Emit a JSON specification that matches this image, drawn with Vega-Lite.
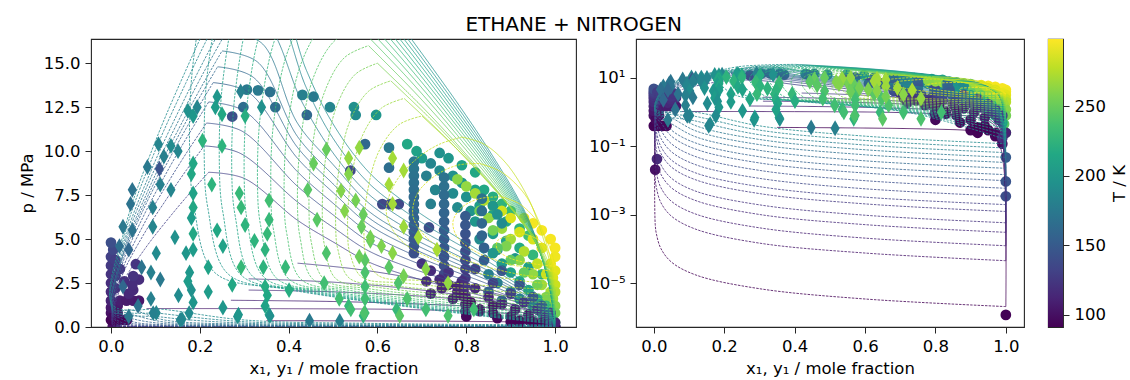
{
"$schema": "https://vega.github.io/schema/vega-lite/v6.json",
"padding": {"left": 18, "top": 15, "right": 2, "bottom": 2},
"title": {"text": "ETHANE + NITROGEN", "anchor": "middle", "offset": 3, "fontSize": 20, "fontWeight": "normal", "color": "#000"},
"bounds": "flush",
"spacing": 24,
"datasets": {
"lines": [
{"s":"92d","T":92,"k":"d","x":1,"p":2.1e-6},{"s":"92d","T":92,"k":"d","x":0.6,"p":3.5e-6},{"s":"92d","T":92,"k":"d","x":0.3,"p":7e-6},{"s":"92d","T":92,"k":"d","x":0.12,"p":1.75e-5},{"s":"92d","T":92,"k":"d","x":0.05,"p":4.2e-5},{"s":"92d","T":92,"k":"d","x":0.02,"p":1.05e-4},{"s":"92d","T":92,"k":"d","x":0.008,"p":2.6e-4},{"s":"92d","T":92,"k":"d","x":0.004,"p":5.3e-4},{"s":"92d","T":92,"k":"d","x":0.003,"p":0.36},
{"s":"92b","T":92,"k":"b","x":0.35,"p":0.36},{"s":"92b","T":92,"k":"b","x":0.6,"p":0.345},{"s":"92b","T":92,"k":"b","x":0.8,"p":0.32},{"s":"92b","T":92,"k":"b","x":0.9,"p":0.29},{"s":"92b","T":92,"k":"b","x":0.95,"p":0.24},{"s":"92b","T":92,"k":"b","x":0.98,"p":0.12},{"s":"92b","T":92,"k":"b","x":0.995,"p":0.02},{"s":"92b","T":92,"k":"b","x":1,"p":2.1e-6},
{"s":"104d","T":104,"k":"d","x":1,"p":4.6e-5},{"s":"104d","T":104,"k":"d","x":0.6,"p":7.7e-5},{"s":"104d","T":104,"k":"d","x":0.3,"p":1.5e-4},{"s":"104d","T":104,"k":"d","x":0.12,"p":3.8e-4},{"s":"104d","T":104,"k":"d","x":0.05,"p":9.2e-4},{"s":"104d","T":104,"k":"d","x":0.02,"p":2.3e-3},{"s":"104d","T":104,"k":"d","x":0.008,"p":5.8e-3},{"s":"104d","T":104,"k":"d","x":0.004,"p":0.0115},{"s":"104d","T":104,"k":"d","x":0.003,"p":1.05},
{"s":"104b","T":104,"k":"b","x":0.08,"p":1.05},{"s":"104b","T":104,"k":"b","x":0.4,"p":1.04},{"s":"104b","T":104,"k":"b","x":0.65,"p":1.0},{"s":"104b","T":104,"k":"b","x":0.8,"p":0.9},{"s":"104b","T":104,"k":"b","x":0.9,"p":0.75},{"s":"104b","T":104,"k":"b","x":0.95,"p":0.55},{"s":"104b","T":104,"k":"b","x":0.98,"p":0.3},{"s":"104b","T":104,"k":"b","x":0.995,"p":0.06},{"s":"104b","T":104,"k":"b","x":1,"p":4.6e-5},
{"s":"110d","T":110,"k":"d","x":1,"p":1.26e-4},{"s":"110d","T":110,"k":"d","x":0.6,"p":2.1e-4},{"s":"110d","T":110,"k":"d","x":0.3,"p":4.2e-4},{"s":"110d","T":110,"k":"d","x":0.12,"p":1.05e-3},{"s":"110d","T":110,"k":"d","x":0.05,"p":2.5e-3},{"s":"110d","T":110,"k":"d","x":0.02,"p":6.3e-3},{"s":"110d","T":110,"k":"d","x":0.008,"p":0.0158},{"s":"110d","T":110,"k":"d","x":0.004,"p":0.0315},{"s":"110d","T":110,"k":"d","x":0.003,"p":1.52},
{"s":"110b","T":110,"k":"b","x":0.27,"p":1.52},{"s":"110b","T":110,"k":"b","x":0.5,"p":1.45},{"s":"110b","T":110,"k":"b","x":0.7,"p":1.3},{"s":"110b","T":110,"k":"b","x":0.85,"p":1.1},{"s":"110b","T":110,"k":"b","x":0.93,"p":0.8},{"s":"110b","T":110,"k":"b","x":0.97,"p":0.45},{"s":"110b","T":110,"k":"b","x":0.99,"p":0.15},{"s":"110b","T":110,"k":"b","x":1,"p":1.26e-4},
{"s":"116d","T":116,"k":"d","x":1,"p":3.1e-4},{"s":"116d","T":116,"k":"d","x":0.6,"p":5.2e-4},{"s":"116d","T":116,"k":"d","x":0.3,"p":1.03e-3},{"s":"116d","T":116,"k":"d","x":0.12,"p":2.6e-3},{"s":"116d","T":116,"k":"d","x":0.05,"p":6.2e-3},{"s":"116d","T":116,"k":"d","x":0.02,"p":0.0155},{"s":"116d","T":116,"k":"d","x":0.008,"p":0.039},{"s":"116d","T":116,"k":"d","x":0.004,"p":0.078},{"s":"116d","T":116,"k":"d","x":0.003,"p":2.1},
{"s":"116b","T":116,"k":"b","x":0.31,"p":2.1},{"s":"116b","T":116,"k":"b","x":0.5,"p":2.0},{"s":"116b","T":116,"k":"b","x":0.7,"p":1.75},{"s":"116b","T":116,"k":"b","x":0.85,"p":1.4},{"s":"116b","T":116,"k":"b","x":0.93,"p":1.0},{"s":"116b","T":116,"k":"b","x":0.97,"p":0.55},{"s":"116b","T":116,"k":"b","x":0.99,"p":0.2},{"s":"116b","T":116,"k":"b","x":1,"p":3.1e-4},
{"s":"121d","T":121,"k":"d","x":1,"p":5.9e-4},{"s":"121d","T":121,"k":"d","x":0.6,"p":9.8e-4},{"s":"121d","T":121,"k":"d","x":0.3,"p":1.97e-3},{"s":"121d","T":121,"k":"d","x":0.12,"p":4.9e-3},{"s":"121d","T":121,"k":"d","x":0.05,"p":0.0118},{"s":"121d","T":121,"k":"d","x":0.02,"p":0.0295},{"s":"121d","T":121,"k":"d","x":0.008,"p":0.074},{"s":"121d","T":121,"k":"d","x":0.004,"p":0.15},{"s":"121d","T":121,"k":"d","x":0.003,"p":2.74},
{"s":"121b","T":121,"k":"b","x":0.31,"p":2.74},{"s":"121b","T":121,"k":"b","x":0.5,"p":2.55},{"s":"121b","T":121,"k":"b","x":0.7,"p":2.1},{"s":"121b","T":121,"k":"b","x":0.85,"p":1.55},{"s":"121b","T":121,"k":"b","x":0.93,"p":1.1},{"s":"121b","T":121,"k":"b","x":0.97,"p":0.6},{"s":"121b","T":121,"k":"b","x":0.99,"p":0.2},{"s":"121b","T":121,"k":"b","x":1,"p":5.9e-4},
{"s":"125d","T":125,"k":"d","x":1,"p":1.26e-3},{"s":"125d","T":125,"k":"d","x":0.6,"p":2.1e-3},{"s":"125d","T":125,"k":"d","x":0.3,"p":4.2e-3},{"s":"125d","T":125,"k":"d","x":0.12,"p":0.0105},{"s":"125d","T":125,"k":"d","x":0.05,"p":0.025},{"s":"125d","T":125,"k":"d","x":0.02,"p":0.063},{"s":"125d","T":125,"k":"d","x":0.008,"p":0.158},{"s":"125d","T":125,"k":"d","x":0.004,"p":0.315},{"s":"125d","T":125,"k":"d","x":0.003,"p":3.63},
{"s":"125b","T":125,"k":"b","x":0.42,"p":3.63},{"s":"125b","T":125,"k":"b","x":0.55,"p":3.3},{"s":"125b","T":125,"k":"b","x":0.7,"p":2.7},{"s":"125b","T":125,"k":"b","x":0.85,"p":2.0},{"s":"125b","T":125,"k":"b","x":0.93,"p":1.4},{"s":"125b","T":125,"k":"b","x":0.97,"p":0.7},{"s":"125b","T":125,"k":"b","x":0.99,"p":0.25},{"s":"125b","T":125,"k":"b","x":1,"p":1.26e-3},
{"s":"130d","T":130,"k":"d","x":1,"p":0.002},{"s":"130d","T":130,"k":"d","x":0.6,"p":0.0033},{"s":"130d","T":130,"k":"d","x":0.3,"p":0.0067},{"s":"130d","T":130,"k":"d","x":0.12,"p":0.0167},{"s":"130d","T":130,"k":"d","x":0.05,"p":0.04},{"s":"130d","T":130,"k":"d","x":0.02,"p":0.1},{"s":"130d","T":130,"k":"d","x":0.008,"p":0.25},{"s":"130d","T":130,"k":"d","x":0.004,"p":0.53},{"s":"130d","T":130,"k":"d","x":0.024,"p":2.38},{"s":"130d","T":130,"k":"d","x":0.075,"p":4.4},{"s":"130d","T":130,"k":"d","x":0.132,"p":6.25},{"s":"130d","T":130,"k":"d","x":0.176,"p":7.57},{"s":"130d","T":130,"k":"d","x":0.22,"p":8.8},
{"s":"130b","T":130,"k":"b","x":0.22,"p":8.8},{"s":"130b","T":130,"k":"b","x":0.3,"p":8.45},{"s":"130b","T":130,"k":"b","x":0.42,"p":6.07},{"s":"130b","T":130,"k":"b","x":0.5,"p":4.84},{"s":"130b","T":130,"k":"b","x":0.58,"p":3.7},{"s":"130b","T":130,"k":"b","x":0.67,"p":2.9},{"s":"130b","T":130,"k":"b","x":0.75,"p":2.33},{"s":"130b","T":130,"k":"b","x":0.85,"p":1.67},{"s":"130b","T":130,"k":"b","x":0.93,"p":1.06},{"s":"130b","T":130,"k":"b","x":0.98,"p":0.53},{"s":"130b","T":130,"k":"b","x":1,"p":0.002},
{"s":"136d","T":136,"k":"d","x":1,"p":0.0035},{"s":"136d","T":136,"k":"d","x":0.6,"p":0.0058},{"s":"136d","T":136,"k":"d","x":0.3,"p":0.0117},{"s":"136d","T":136,"k":"d","x":0.12,"p":0.029},{"s":"136d","T":136,"k":"d","x":0.05,"p":0.07},{"s":"136d","T":136,"k":"d","x":0.02,"p":0.175},{"s":"136d","T":136,"k":"d","x":0.008,"p":0.44},{"s":"136d","T":136,"k":"d","x":0.004,"p":0.62},{"s":"136d","T":136,"k":"d","x":0.023,"p":2.78},{"s":"136d","T":136,"k":"d","x":0.071,"p":5.15},{"s":"136d","T":136,"k":"d","x":0.126,"p":7.31},{"s":"136d","T":136,"k":"d","x":0.168,"p":8.86},{"s":"136d","T":136,"k":"d","x":0.21,"p":10.3},
{"s":"136b","T":136,"k":"b","x":0.21,"p":10.3},{"s":"136b","T":136,"k":"b","x":0.29,"p":9.89},{"s":"136b","T":136,"k":"b","x":0.42,"p":7.11},{"s":"136b","T":136,"k":"b","x":0.5,"p":5.67},{"s":"136b","T":136,"k":"b","x":0.58,"p":4.33},{"s":"136b","T":136,"k":"b","x":0.67,"p":3.4},{"s":"136b","T":136,"k":"b","x":0.75,"p":2.73},{"s":"136b","T":136,"k":"b","x":0.85,"p":1.96},{"s":"136b","T":136,"k":"b","x":0.93,"p":1.24},{"s":"136b","T":136,"k":"b","x":0.98,"p":0.62},{"s":"136b","T":136,"k":"b","x":1,"p":0.0035},
{"s":"142d","T":142,"k":"d","x":1,"p":0.006},{"s":"142d","T":142,"k":"d","x":0.6,"p":0.01},{"s":"142d","T":142,"k":"d","x":0.3,"p":0.02},{"s":"142d","T":142,"k":"d","x":0.12,"p":0.05},{"s":"142d","T":142,"k":"d","x":0.05,"p":0.12},{"s":"142d","T":142,"k":"d","x":0.02,"p":0.3},{"s":"142d","T":142,"k":"d","x":0.004,"p":0.7},{"s":"142d","T":142,"k":"d","x":0.024,"p":3.13},{"s":"142d","T":142,"k":"d","x":0.073,"p":5.8},{"s":"142d","T":142,"k":"d","x":0.129,"p":8.24},{"s":"142d","T":142,"k":"d","x":0.172,"p":9.98},{"s":"142d","T":142,"k":"d","x":0.215,"p":11.6},
{"s":"142b","T":142,"k":"b","x":0.215,"p":11.6},{"s":"142b","T":142,"k":"b","x":0.295,"p":11.14},{"s":"142b","T":142,"k":"b","x":0.42,"p":8.0},{"s":"142b","T":142,"k":"b","x":0.5,"p":6.38},{"s":"142b","T":142,"k":"b","x":0.58,"p":4.87},{"s":"142b","T":142,"k":"b","x":0.67,"p":3.83},{"s":"142b","T":142,"k":"b","x":0.75,"p":3.07},{"s":"142b","T":142,"k":"b","x":0.85,"p":2.2},{"s":"142b","T":142,"k":"b","x":0.93,"p":1.39},{"s":"142b","T":142,"k":"b","x":0.98,"p":0.7},{"s":"142b","T":142,"k":"b","x":1,"p":0.006},
{"s":"148d","T":148,"k":"d","x":1,"p":0.01},{"s":"148d","T":148,"k":"d","x":0.6,"p":0.0167},{"s":"148d","T":148,"k":"d","x":0.3,"p":0.033},{"s":"148d","T":148,"k":"d","x":0.12,"p":0.083},{"s":"148d","T":148,"k":"d","x":0.05,"p":0.2},{"s":"148d","T":148,"k":"d","x":0.02,"p":0.5},{"s":"148d","T":148,"k":"d","x":0.004,"p":0.77},{"s":"148d","T":148,"k":"d","x":0.024,"p":3.46},{"s":"148d","T":148,"k":"d","x":0.075,"p":6.4},{"s":"148d","T":148,"k":"d","x":0.132,"p":9.09},{"s":"148d","T":148,"k":"d","x":0.176,"p":11.0},{"s":"148d","T":148,"k":"d","x":0.22,"p":12.8},
{"s":"148b","T":148,"k":"b","x":0.22,"p":12.8},{"s":"148b","T":148,"k":"b","x":0.3,"p":12.29},{"s":"148b","T":148,"k":"b","x":0.42,"p":8.83},{"s":"148b","T":148,"k":"b","x":0.5,"p":7.04},{"s":"148b","T":148,"k":"b","x":0.58,"p":5.38},{"s":"148b","T":148,"k":"b","x":0.67,"p":4.22},{"s":"148b","T":148,"k":"b","x":0.75,"p":3.39},{"s":"148b","T":148,"k":"b","x":0.85,"p":2.43},{"s":"148b","T":148,"k":"b","x":0.93,"p":1.54},{"s":"148b","T":148,"k":"b","x":0.98,"p":0.77},{"s":"148b","T":148,"k":"b","x":1,"p":0.01},
{"s":"154d","T":154,"k":"d","x":1,"p":0.015},{"s":"154d","T":154,"k":"d","x":0.6,"p":0.025},{"s":"154d","T":154,"k":"d","x":0.3,"p":0.05},{"s":"154d","T":154,"k":"d","x":0.12,"p":0.125},{"s":"154d","T":154,"k":"d","x":0.05,"p":0.3},{"s":"154d","T":154,"k":"d","x":0.02,"p":0.75},{"s":"154d","T":154,"k":"d","x":0.004,"p":0.83},{"s":"154d","T":154,"k":"d","x":0.025,"p":3.75},{"s":"154d","T":154,"k":"d","x":0.078,"p":6.95},{"s":"154d","T":154,"k":"d","x":0.138,"p":9.87},{"s":"154d","T":154,"k":"d","x":0.184,"p":11.95},{"s":"154d","T":154,"k":"d","x":0.23,"p":13.9},
{"s":"154b","T":154,"k":"b","x":0.23,"p":13.9},{"s":"154b","T":154,"k":"b","x":0.31,"p":13.34},{"s":"154b","T":154,"k":"b","x":0.42,"p":9.59},{"s":"154b","T":154,"k":"b","x":0.5,"p":7.65},{"s":"154b","T":154,"k":"b","x":0.58,"p":5.84},{"s":"154b","T":154,"k":"b","x":0.67,"p":4.59},{"s":"154b","T":154,"k":"b","x":0.75,"p":3.68},{"s":"154b","T":154,"k":"b","x":0.85,"p":2.64},{"s":"154b","T":154,"k":"b","x":0.93,"p":1.67},{"s":"154b","T":154,"k":"b","x":0.98,"p":0.83},{"s":"154b","T":154,"k":"b","x":1,"p":0.015},
{"s":"160d","T":160,"k":"d","x":1,"p":0.023},{"s":"160d","T":160,"k":"d","x":0.6,"p":0.038},{"s":"160d","T":160,"k":"d","x":0.3,"p":0.077},{"s":"160d","T":160,"k":"d","x":0.12,"p":0.19},{"s":"160d","T":160,"k":"d","x":0.05,"p":0.46},{"s":"160d","T":160,"k":"d","x":0.004,"p":0.89},{"s":"160d","T":160,"k":"d","x":0.026,"p":4.0},{"s":"160d","T":160,"k":"d","x":0.082,"p":7.4},{"s":"160d","T":160,"k":"d","x":0.144,"p":10.5},{"s":"160d","T":160,"k":"d","x":0.192,"p":12.73},{"s":"160d","T":160,"k":"d","x":0.24,"p":14.8},
{"s":"160b","T":160,"k":"b","x":0.24,"p":14.8},{"s":"160b","T":160,"k":"b","x":0.32,"p":14.21},{"s":"160b","T":160,"k":"b","x":0.42,"p":10.21},{"s":"160b","T":160,"k":"b","x":0.5,"p":8.14},{"s":"160b","T":160,"k":"b","x":0.58,"p":6.22},{"s":"160b","T":160,"k":"b","x":0.67,"p":4.88},{"s":"160b","T":160,"k":"b","x":0.75,"p":3.92},{"s":"160b","T":160,"k":"b","x":0.85,"p":2.81},{"s":"160b","T":160,"k":"b","x":0.93,"p":1.78},{"s":"160b","T":160,"k":"b","x":0.98,"p":0.89},{"s":"160b","T":160,"k":"b","x":1,"p":0.023},
{"s":"166d","T":166,"k":"d","x":1,"p":0.034},{"s":"166d","T":166,"k":"d","x":0.6,"p":0.057},{"s":"166d","T":166,"k":"d","x":0.3,"p":0.113},{"s":"166d","T":166,"k":"d","x":0.12,"p":0.283},{"s":"166d","T":166,"k":"d","x":0.05,"p":0.68},{"s":"166d","T":166,"k":"d","x":0.004,"p":0.94},{"s":"166d","T":166,"k":"d","x":0.028,"p":4.24},{"s":"166d","T":166,"k":"d","x":0.085,"p":7.85},{"s":"166d","T":166,"k":"d","x":0.15,"p":11.15},{"s":"166d","T":166,"k":"d","x":0.2,"p":13.5},{"s":"166d","T":166,"k":"d","x":0.25,"p":15.7},
{"s":"166b","T":166,"k":"b","x":0.25,"p":15.7},{"s":"166b","T":166,"k":"b","x":0.33,"p":15.07},{"s":"166b","T":166,"k":"b","x":0.42,"p":10.83},{"s":"166b","T":166,"k":"b","x":0.5,"p":8.64},{"s":"166b","T":166,"k":"b","x":0.58,"p":6.59},{"s":"166b","T":166,"k":"b","x":0.67,"p":5.18},{"s":"166b","T":166,"k":"b","x":0.75,"p":4.16},{"s":"166b","T":166,"k":"b","x":0.85,"p":2.98},{"s":"166b","T":166,"k":"b","x":0.93,"p":1.88},{"s":"166b","T":166,"k":"b","x":0.98,"p":0.94},{"s":"166b","T":166,"k":"b","x":1,"p":0.034},
{"s":"172d","T":172,"k":"d","x":1,"p":0.048},{"s":"172d","T":172,"k":"d","x":0.6,"p":0.08},{"s":"172d","T":172,"k":"d","x":0.3,"p":0.16},{"s":"172d","T":172,"k":"d","x":0.12,"p":0.4},{"s":"172d","T":172,"k":"d","x":0.05,"p":0.96},{"s":"172d","T":172,"k":"d","x":0.004,"p":1.01},{"s":"172d","T":172,"k":"d","x":0.029,"p":4.54},{"s":"172d","T":172,"k":"d","x":0.088,"p":8.4},{"s":"172d","T":172,"k":"d","x":0.156,"p":11.93},{"s":"172d","T":172,"k":"d","x":0.208,"p":14.45},{"s":"172d","T":172,"k":"d","x":0.26,"p":16.8},
{"s":"172b","T":172,"k":"b","x":0.26,"p":16.8},{"s":"172b","T":172,"k":"b","x":0.34,"p":16.13},{"s":"172b","T":172,"k":"b","x":0.42,"p":11.59},{"s":"172b","T":172,"k":"b","x":0.5,"p":9.24},{"s":"172b","T":172,"k":"b","x":0.58,"p":7.06},{"s":"172b","T":172,"k":"b","x":0.67,"p":5.54},{"s":"172b","T":172,"k":"b","x":0.75,"p":4.45},{"s":"172b","T":172,"k":"b","x":0.85,"p":3.19},{"s":"172b","T":172,"k":"b","x":0.93,"p":2.02},{"s":"172b","T":172,"k":"b","x":0.98,"p":1.01},{"s":"172b","T":172,"k":"b","x":1,"p":0.048},
{"s":"178d","T":178,"k":"d","x":1,"p":0.066},{"s":"178d","T":178,"k":"d","x":0.6,"p":0.11},{"s":"178d","T":178,"k":"d","x":0.3,"p":0.22},{"s":"178d","T":178,"k":"d","x":0.12,"p":0.55},{"s":"178d","T":178,"k":"d","x":0.004,"p":1.08},{"s":"178d","T":178,"k":"d","x":0.03,"p":4.86},{"s":"178d","T":178,"k":"d","x":0.092,"p":9.0},{"s":"178d","T":178,"k":"d","x":0.162,"p":12.78},{"s":"178d","T":178,"k":"d","x":0.216,"p":15.48},{"s":"178d","T":178,"k":"d","x":0.27,"p":18},
{"s":"178b","T":178,"k":"b","x":0.27,"p":18},{"s":"178b","T":178,"k":"b","x":0.35,"p":17.28},{"s":"178b","T":178,"k":"b","x":0.43,"p":12.8},{"s":"178b","T":178,"k":"b","x":0.5,"p":9.9},{"s":"178b","T":178,"k":"b","x":0.58,"p":7.56},{"s":"178b","T":178,"k":"b","x":0.67,"p":5.94},{"s":"178b","T":178,"k":"b","x":0.75,"p":4.77},{"s":"178b","T":178,"k":"b","x":0.85,"p":3.42},{"s":"178b","T":178,"k":"b","x":0.93,"p":2.16},{"s":"178b","T":178,"k":"b","x":0.98,"p":1.08},{"s":"178b","T":178,"k":"b","x":1,"p":0.066},
{"s":"184d","T":184,"k":"d","x":1,"p":0.09},{"s":"184d","T":184,"k":"d","x":0.6,"p":0.15},{"s":"184d","T":184,"k":"d","x":0.3,"p":0.3},{"s":"184d","T":184,"k":"d","x":0.12,"p":0.75},{"s":"184d","T":184,"k":"d","x":0.004,"p":1.17},{"s":"184d","T":184,"k":"d","x":0.031,"p":5.27},{"s":"184d","T":184,"k":"d","x":0.095,"p":9.75},{"s":"184d","T":184,"k":"d","x":0.168,"p":13.85},{"s":"184d","T":184,"k":"d","x":0.224,"p":16.77},{"s":"184d","T":184,"k":"d","x":0.28,"p":19.5},
{"s":"184b","T":184,"k":"b","x":0.28,"p":19.5},{"s":"184b","T":184,"k":"b","x":0.36,"p":18.7},{"s":"184b","T":184,"k":"b","x":0.44,"p":13.6},{"s":"184b","T":184,"k":"b","x":0.5,"p":10.73},{"s":"184b","T":184,"k":"b","x":0.58,"p":8.19},{"s":"184b","T":184,"k":"b","x":0.67,"p":6.44},{"s":"184b","T":184,"k":"b","x":0.75,"p":5.17},{"s":"184b","T":184,"k":"b","x":0.85,"p":3.71},{"s":"184b","T":184,"k":"b","x":0.93,"p":2.34},{"s":"184b","T":184,"k":"b","x":0.98,"p":1.17},{"s":"184b","T":184,"k":"b","x":1,"p":0.09},
{"s":"190d","T":190,"k":"d","x":1,"p":0.12},{"s":"190d","T":190,"k":"d","x":0.6,"p":0.2},{"s":"190d","T":190,"k":"d","x":0.3,"p":0.4},{"s":"190d","T":190,"k":"d","x":0.12,"p":1.0},{"s":"190d","T":190,"k":"d","x":0.004,"p":1.26},{"s":"190d","T":190,"k":"d","x":0.032,"p":5.67},{"s":"190d","T":190,"k":"d","x":0.099,"p":10.5},{"s":"190d","T":190,"k":"d","x":0.174,"p":14.91},{"s":"190d","T":190,"k":"d","x":0.232,"p":18.06},{"s":"190d","T":190,"k":"d","x":0.29,"p":21},
{"s":"190b","T":190,"k":"b","x":0.29,"p":21},{"s":"190b","T":190,"k":"b","x":0.36,"p":20.2},{"s":"190b","T":190,"k":"b","x":0.44,"p":14.6},{"s":"190b","T":190,"k":"b","x":0.5,"p":11.55},{"s":"190b","T":190,"k":"b","x":0.58,"p":8.82},{"s":"190b","T":190,"k":"b","x":0.67,"p":6.93},{"s":"190b","T":190,"k":"b","x":0.75,"p":5.57},{"s":"190b","T":190,"k":"b","x":0.85,"p":3.99},{"s":"190b","T":190,"k":"b","x":0.93,"p":2.52},{"s":"190b","T":190,"k":"b","x":0.98,"p":1.26},{"s":"190b","T":190,"k":"b","x":1,"p":0.12},
{"s":"196d","T":196,"k":"d","x":1,"p":0.16},{"s":"196d","T":196,"k":"d","x":0.73,"p":0.95},{"s":"196d","T":196,"k":"d","x":0.4,"p":2.13},{"s":"196d","T":196,"k":"d","x":0.233,"p":3.11},{"s":"196d","T":196,"k":"d","x":0.186,"p":7.05},{"s":"196d","T":196,"k":"d","x":0.177,"p":10},{"s":"196d","T":196,"k":"d","x":0.186,"p":15.25},{"s":"196d","T":196,"k":"d","x":0.233,"p":20.8},{"s":"196d","T":196,"k":"d","x":0.311,"p":23.95},{"s":"196d","T":196,"k":"d","x":0.4,"p":25},
{"s":"196b","T":196,"k":"b","x":0.4,"p":25},{"s":"196b","T":196,"k":"b","x":0.55,"p":20.53},{"s":"196b","T":196,"k":"b","x":0.7,"p":15.56},{"s":"196b","T":196,"k":"b","x":0.85,"p":10.1},{"s":"196b","T":196,"k":"b","x":0.94,"p":6.12},{"s":"196b","T":196,"k":"b","x":0.982,"p":2.89},{"s":"196b","T":196,"k":"b","x":1,"p":0.16},
{"s":"202d","T":202,"k":"d","x":1,"p":0.21},{"s":"202d","T":202,"k":"d","x":0.739,"p":0.96},{"s":"202d","T":202,"k":"d","x":0.42,"p":2.09},{"s":"202d","T":202,"k":"d","x":0.263,"p":3.03},{"s":"202d","T":202,"k":"d","x":0.218,"p":6.78},{"s":"202d","T":202,"k":"d","x":0.21,"p":9.6},{"s":"202d","T":202,"k":"d","x":0.218,"p":14.64},{"s":"202d","T":202,"k":"d","x":0.263,"p":19.97},{"s":"202d","T":202,"k":"d","x":0.336,"p":22.99},{"s":"202d","T":202,"k":"d","x":0.42,"p":24},
{"s":"202b","T":202,"k":"b","x":0.42,"p":24},{"s":"202b","T":202,"k":"b","x":0.565,"p":19.72},{"s":"202b","T":202,"k":"b","x":0.71,"p":14.96},{"s":"202b","T":202,"k":"b","x":0.855,"p":9.73},{"s":"202b","T":202,"k":"b","x":0.942,"p":5.92},{"s":"202b","T":202,"k":"b","x":0.983,"p":2.83},{"s":"202b","T":202,"k":"b","x":1,"p":0.21},
{"s":"208d","T":208,"k":"d","x":1,"p":0.27},{"s":"208d","T":208,"k":"d","x":0.748,"p":0.98},{"s":"208d","T":208,"k":"d","x":0.44,"p":2.06},{"s":"208d","T":208,"k":"d","x":0.293,"p":2.95},{"s":"208d","T":208,"k":"d","x":0.252,"p":6.52},{"s":"208d","T":208,"k":"d","x":0.244,"p":9.2},{"s":"208d","T":208,"k":"d","x":0.252,"p":14.03},{"s":"208d","T":208,"k":"d","x":0.293,"p":19.14},{"s":"208d","T":208,"k":"d","x":0.362,"p":22.03},{"s":"208d","T":208,"k":"d","x":0.44,"p":23},
{"s":"208b","T":208,"k":"b","x":0.44,"p":23},{"s":"208b","T":208,"k":"b","x":0.58,"p":18.91},{"s":"208b","T":208,"k":"b","x":0.72,"p":14.36},{"s":"208b","T":208,"k":"b","x":0.86,"p":9.36},{"s":"208b","T":208,"k":"b","x":0.944,"p":5.73},{"s":"208b","T":208,"k":"b","x":0.983,"p":2.77},{"s":"208b","T":208,"k":"b","x":1,"p":0.27},
{"s":"214d","T":214,"k":"d","x":1,"p":0.34},{"s":"214d","T":214,"k":"d","x":0.757,"p":1.02},{"s":"214d","T":214,"k":"d","x":0.46,"p":2.03},{"s":"214d","T":214,"k":"d","x":0.319,"p":2.88},{"s":"214d","T":214,"k":"d","x":0.28,"p":6.26},{"s":"214d","T":214,"k":"d","x":0.272,"p":8.8},{"s":"214d","T":214,"k":"d","x":0.28,"p":13.42},{"s":"214d","T":214,"k":"d","x":0.319,"p":18.3},{"s":"214d","T":214,"k":"d","x":0.385,"p":21.08},{"s":"214d","T":214,"k":"d","x":0.46,"p":22},
{"s":"214b","T":214,"k":"b","x":0.46,"p":22},{"s":"214b","T":214,"k":"b","x":0.595,"p":18.1},{"s":"214b","T":214,"k":"b","x":0.73,"p":13.77},{"s":"214b","T":214,"k":"b","x":0.865,"p":9.0},{"s":"214b","T":214,"k":"b","x":0.946,"p":5.54},{"s":"214b","T":214,"k":"b","x":0.984,"p":2.72},{"s":"214b","T":214,"k":"b","x":1,"p":0.34},
{"s":"220d","T":220,"k":"d","x":1,"p":0.43},{"s":"220d","T":220,"k":"d","x":0.766,"p":1.07},{"s":"220d","T":220,"k":"d","x":0.48,"p":2.02},{"s":"220d","T":220,"k":"d","x":0.345,"p":2.82},{"s":"220d","T":220,"k":"d","x":0.307,"p":6.01},{"s":"220d","T":220,"k":"d","x":0.3,"p":8.4},{"s":"220d","T":220,"k":"d","x":0.307,"p":12.81},{"s":"220d","T":220,"k":"d","x":0.345,"p":17.47},{"s":"220d","T":220,"k":"d","x":0.408,"p":20.12},{"s":"220d","T":220,"k":"d","x":0.48,"p":21},
{"s":"220b","T":220,"k":"b","x":0.48,"p":21},{"s":"220b","T":220,"k":"b","x":0.61,"p":17.3},{"s":"220b","T":220,"k":"b","x":0.74,"p":13.18},{"s":"220b","T":220,"k":"b","x":0.87,"p":8.66},{"s":"220b","T":220,"k":"b","x":0.948,"p":5.37},{"s":"220b","T":220,"k":"b","x":0.984,"p":2.69},{"s":"220b","T":220,"k":"b","x":1,"p":0.43},
{"s":"226d","T":226,"k":"d","x":1,"p":0.53},{"s":"226d","T":226,"k":"d","x":0.775,"p":1.13},{"s":"226d","T":226,"k":"d","x":0.5,"p":2.02},{"s":"226d","T":226,"k":"d","x":0.373,"p":2.77},{"s":"226d","T":226,"k":"d","x":0.337,"p":5.76},{"s":"226d","T":226,"k":"d","x":0.33,"p":8},{"s":"226d","T":226,"k":"d","x":0.337,"p":12.2},{"s":"226d","T":226,"k":"d","x":0.373,"p":16.64},{"s":"226d","T":226,"k":"d","x":0.432,"p":19.16},{"s":"226d","T":226,"k":"d","x":0.5,"p":20},
{"s":"226b","T":226,"k":"b","x":0.5,"p":20},{"s":"226b","T":226,"k":"b","x":0.625,"p":16.5},{"s":"226b","T":226,"k":"b","x":0.75,"p":12.6},{"s":"226b","T":226,"k":"b","x":0.875,"p":8.32},{"s":"226b","T":226,"k":"b","x":0.95,"p":5.2},{"s":"226b","T":226,"k":"b","x":0.985,"p":2.67},{"s":"226b","T":226,"k":"b","x":1,"p":0.53},
{"s":"232d","T":232,"k":"d","x":1,"p":0.65},{"s":"232d","T":232,"k":"d","x":0.784,"p":1.21},{"s":"232d","T":232,"k":"d","x":0.52,"p":2.04},{"s":"232d","T":232,"k":"d","x":0.4,"p":2.74},{"s":"232d","T":232,"k":"d","x":0.366,"p":5.52},{"s":"232d","T":232,"k":"d","x":0.36,"p":7.6},{"s":"232d","T":232,"k":"d","x":0.366,"p":11.59},{"s":"232d","T":232,"k":"d","x":0.4,"p":15.81},{"s":"232d","T":232,"k":"d","x":0.456,"p":18.2},{"s":"232d","T":232,"k":"d","x":0.52,"p":19},
{"s":"232b","T":232,"k":"b","x":0.52,"p":19},{"s":"232b","T":232,"k":"b","x":0.64,"p":15.7},{"s":"232b","T":232,"k":"b","x":0.76,"p":12.03},{"s":"232b","T":232,"k":"b","x":0.88,"p":7.99},{"s":"232b","T":232,"k":"b","x":0.952,"p":5.05},{"s":"232b","T":232,"k":"b","x":0.986,"p":2.67},{"s":"232b","T":232,"k":"b","x":1,"p":0.65},
{"s":"238d","T":238,"k":"d","x":1,"p":0.79},{"s":"238d","T":238,"k":"d","x":0.793,"p":1.3},{"s":"238d","T":238,"k":"d","x":0.54,"p":2.07},{"s":"238d","T":238,"k":"d","x":0.428,"p":2.71},{"s":"238d","T":238,"k":"d","x":0.396,"p":5.28},{"s":"238d","T":238,"k":"d","x":0.39,"p":7.2},{"s":"238d","T":238,"k":"d","x":0.396,"p":10.98},{"s":"238d","T":238,"k":"d","x":0.428,"p":14.98},{"s":"238d","T":238,"k":"d","x":0.48,"p":17.24},{"s":"238d","T":238,"k":"d","x":0.54,"p":18},
{"s":"238b","T":238,"k":"b","x":0.54,"p":18},{"s":"238b","T":238,"k":"b","x":0.655,"p":14.9},{"s":"238b","T":238,"k":"b","x":0.77,"p":11.46},{"s":"238b","T":238,"k":"b","x":0.885,"p":7.67},{"s":"238b","T":238,"k":"b","x":0.954,"p":4.92},{"s":"238b","T":238,"k":"b","x":0.986,"p":2.68},{"s":"238b","T":238,"k":"b","x":1,"p":0.79},
{"s":"244d","T":244,"k":"d","x":1,"p":0.95},{"s":"244d","T":244,"k":"d","x":0.802,"p":1.42},{"s":"244d","T":244,"k":"d","x":0.56,"p":2.12},{"s":"244d","T":244,"k":"d","x":0.455,"p":2.71},{"s":"244d","T":244,"k":"d","x":0.426,"p":5.05},{"s":"244d","T":244,"k":"d","x":0.42,"p":6.8},{"s":"244d","T":244,"k":"d","x":0.426,"p":10.37},{"s":"244d","T":244,"k":"d","x":0.455,"p":14.14},{"s":"244d","T":244,"k":"d","x":0.504,"p":16.29},{"s":"244d","T":244,"k":"d","x":0.56,"p":17},
{"s":"244b","T":244,"k":"b","x":0.56,"p":17},{"s":"244b","T":244,"k":"b","x":0.67,"p":14.11},{"s":"244b","T":244,"k":"b","x":0.78,"p":10.9},{"s":"244b","T":244,"k":"b","x":0.89,"p":7.37},{"s":"244b","T":244,"k":"b","x":0.956,"p":4.8},{"s":"244b","T":244,"k":"b","x":0.987,"p":2.72},{"s":"244b","T":244,"k":"b","x":1,"p":0.95},
{"s":"250d","T":250,"k":"d","x":1,"p":1.13},{"s":"250d","T":250,"k":"d","x":0.811,"p":1.55},{"s":"250d","T":250,"k":"d","x":0.58,"p":2.18},{"s":"250d","T":250,"k":"d","x":0.48,"p":2.71},{"s":"250d","T":250,"k":"d","x":0.451,"p":4.82},{"s":"250d","T":250,"k":"d","x":0.446,"p":6.4},{"s":"250d","T":250,"k":"d","x":0.451,"p":9.76},{"s":"250d","T":250,"k":"d","x":0.48,"p":13.31},{"s":"250d","T":250,"k":"d","x":0.526,"p":15.33},{"s":"250d","T":250,"k":"d","x":0.58,"p":16},
{"s":"250b","T":250,"k":"b","x":0.58,"p":16},{"s":"250b","T":250,"k":"b","x":0.685,"p":13.32},{"s":"250b","T":250,"k":"b","x":0.79,"p":10.35},{"s":"250b","T":250,"k":"b","x":0.895,"p":7.08},{"s":"250b","T":250,"k":"b","x":0.958,"p":4.7},{"s":"250b","T":250,"k":"b","x":0.987,"p":2.77},{"s":"250b","T":250,"k":"b","x":1,"p":1.13},
{"s":"256d","T":256,"k":"d","x":1,"p":1.33},{"s":"256d","T":256,"k":"d","x":0.82,"p":1.7},{"s":"256d","T":256,"k":"d","x":0.6,"p":2.26},{"s":"256d","T":256,"k":"d","x":0.507,"p":2.73},{"s":"256d","T":256,"k":"d","x":0.481,"p":4.6},{"s":"256d","T":256,"k":"d","x":0.476,"p":6.0},{"s":"256d","T":256,"k":"d","x":0.481,"p":9.15},{"s":"256d","T":256,"k":"d","x":0.507,"p":12.48},{"s":"256d","T":256,"k":"d","x":0.55,"p":14.37},{"s":"256d","T":256,"k":"d","x":0.6,"p":15},
{"s":"256b","T":256,"k":"b","x":0.6,"p":15},{"s":"256b","T":256,"k":"b","x":0.7,"p":12.54},{"s":"256b","T":256,"k":"b","x":0.8,"p":9.81},{"s":"256b","T":256,"k":"b","x":0.9,"p":6.8},{"s":"256b","T":256,"k":"b","x":0.96,"p":4.61},{"s":"256b","T":256,"k":"b","x":0.988,"p":2.83},{"s":"256b","T":256,"k":"b","x":1,"p":1.33},
{"s":"262d","T":262,"k":"d","x":1,"p":1.56},{"s":"262d","T":262,"k":"d","x":0.834,"p":1.88},{"s":"262d","T":262,"k":"d","x":0.63,"p":2.37},{"s":"262d","T":262,"k":"d","x":0.537,"p":2.77},{"s":"262d","T":262,"k":"d","x":0.511,"p":4.39},{"s":"262d","T":262,"k":"d","x":0.506,"p":5.6},{"s":"262d","T":262,"k":"d","x":0.511,"p":8.54},{"s":"262d","T":262,"k":"d","x":0.537,"p":11.65},{"s":"262d","T":262,"k":"d","x":0.58,"p":13.41},{"s":"262d","T":262,"k":"d","x":0.63,"p":14},
{"s":"262b","T":262,"k":"b","x":0.63,"p":14},{"s":"262b","T":262,"k":"b","x":0.7225,"p":11.76},{"s":"262b","T":262,"k":"b","x":0.815,"p":9.27},{"s":"262b","T":262,"k":"b","x":0.9075,"p":6.54},{"s":"262b","T":262,"k":"b","x":0.963,"p":4.55},{"s":"262b","T":262,"k":"b","x":0.989,"p":2.93},{"s":"262b","T":262,"k":"b","x":1,"p":1.56},
{"s":"268d","T":268,"k":"d","x":1,"p":1.82},{"s":"268d","T":268,"k":"d","x":0.847,"p":2.09},{"s":"268d","T":268,"k":"d","x":0.66,"p":2.5},{"s":"268d","T":268,"k":"d","x":0.565,"p":2.83},{"s":"268d","T":268,"k":"d","x":0.538,"p":4.19},{"s":"268d","T":268,"k":"d","x":0.533,"p":5.2},{"s":"268d","T":268,"k":"d","x":0.538,"p":7.93},{"s":"268d","T":268,"k":"d","x":0.565,"p":10.82},{"s":"268d","T":268,"k":"d","x":0.609,"p":12.45},{"s":"268d","T":268,"k":"d","x":0.66,"p":13},
{"s":"268b","T":268,"k":"b","x":0.66,"p":13},{"s":"268b","T":268,"k":"b","x":0.745,"p":10.99},{"s":"268b","T":268,"k":"b","x":0.83,"p":8.75},{"s":"268b","T":268,"k":"b","x":0.915,"p":6.29},{"s":"268b","T":268,"k":"b","x":0.966,"p":4.5},{"s":"268b","T":268,"k":"b","x":0.99,"p":3.05},{"s":"268b","T":268,"k":"b","x":1,"p":1.82},
{"s":"274d","T":274,"k":"d","x":1,"p":2.1},{"s":"274d","T":274,"k":"d","x":0.865,"p":2.32},{"s":"274d","T":274,"k":"d","x":0.7,"p":2.64},{"s":"274d","T":274,"k":"d","x":0.603,"p":2.91},{"s":"274d","T":274,"k":"d","x":0.575,"p":3.99},{"s":"274d","T":274,"k":"d","x":0.57,"p":4.8},{"s":"274d","T":274,"k":"d","x":0.575,"p":7.32},{"s":"274d","T":274,"k":"d","x":0.603,"p":9.98},{"s":"274d","T":274,"k":"d","x":0.648,"p":11.5},{"s":"274d","T":274,"k":"d","x":0.7,"p":12},
{"s":"274b","T":274,"k":"b","x":0.7,"p":12},{"s":"274b","T":274,"k":"b","x":0.775,"p":10.22},{"s":"274b","T":274,"k":"b","x":0.85,"p":8.24},{"s":"274b","T":274,"k":"b","x":0.925,"p":6.06},{"s":"274b","T":274,"k":"b","x":0.97,"p":4.48},{"s":"274b","T":274,"k":"b","x":0.991,"p":3.19},{"s":"274b","T":274,"k":"b","x":1,"p":2.1},
{"s":"280d","T":280,"k":"d","x":1,"p":2.42},{"s":"280d","T":280,"k":"d","x":0.92,"p":2.65},{"s":"280d","T":280,"k":"d","x":0.82,"p":3.1},{"s":"280d","T":280,"k":"d","x":0.72,"p":3.9},{"s":"280d","T":280,"k":"d","x":0.65,"p":5.0},{"s":"280d","T":280,"k":"d","x":0.62,"p":6.5},{"s":"280d","T":280,"k":"d","x":0.64,"p":8.2},{"s":"280d","T":280,"k":"d","x":0.69,"p":9.6},{"s":"280d","T":280,"k":"d","x":0.74,"p":10.4},{"s":"280d","T":280,"k":"d","x":0.79,"p":10.8},
{"s":"280b","T":280,"k":"b","x":0.79,"p":10.8},{"s":"280b","T":280,"k":"b","x":0.84,"p":10.4},{"s":"280b","T":280,"k":"b","x":0.89,"p":9.3},{"s":"280b","T":280,"k":"b","x":0.94,"p":7.3},{"s":"280b","T":280,"k":"b","x":0.97,"p":5.3},{"s":"280b","T":280,"k":"b","x":0.99,"p":3.5},{"s":"280b","T":280,"k":"b","x":1,"p":2.42},
{"s":"286d","T":286,"k":"d","x":1,"p":2.77},{"s":"286d","T":286,"k":"d","x":0.93,"p":2.95},{"s":"286d","T":286,"k":"d","x":0.85,"p":3.4},{"s":"286d","T":286,"k":"d","x":0.77,"p":4.1},{"s":"286d","T":286,"k":"d","x":0.71,"p":5.1},{"s":"286d","T":286,"k":"d","x":0.68,"p":6.3},{"s":"286d","T":286,"k":"d","x":0.69,"p":7.6},{"s":"286d","T":286,"k":"d","x":0.73,"p":8.6},{"s":"286d","T":286,"k":"d","x":0.78,"p":9.2},{"s":"286d","T":286,"k":"d","x":0.83,"p":9.3},
{"s":"286b","T":286,"k":"b","x":0.83,"p":9.3},{"s":"286b","T":286,"k":"b","x":0.88,"p":8.8},{"s":"286b","T":286,"k":"b","x":0.93,"p":7.6},{"s":"286b","T":286,"k":"b","x":0.96,"p":6.2},{"s":"286b","T":286,"k":"b","x":0.98,"p":4.8},{"s":"286b","T":286,"k":"b","x":1,"p":2.77},
{"s":"292d","T":292,"k":"d","x":1,"p":3.16},{"s":"292d","T":292,"k":"d","x":0.94,"p":3.35},{"s":"292d","T":292,"k":"d","x":0.88,"p":3.7},{"s":"292d","T":292,"k":"d","x":0.82,"p":4.3},{"s":"292d","T":292,"k":"d","x":0.78,"p":5.1},{"s":"292d","T":292,"k":"d","x":0.77,"p":6.0},{"s":"292d","T":292,"k":"d","x":0.79,"p":6.8},{"s":"292d","T":292,"k":"d","x":0.83,"p":7.3},{"s":"292d","T":292,"k":"d","x":0.88,"p":7.4},
{"s":"292b","T":292,"k":"b","x":0.88,"p":7.4},{"s":"292b","T":292,"k":"b","x":0.92,"p":7.0},{"s":"292b","T":292,"k":"b","x":0.96,"p":6.0},{"s":"292b","T":292,"k":"b","x":0.98,"p":5.0},{"s":"292b","T":292,"k":"b","x":0.995,"p":4.0},{"s":"292b","T":292,"k":"b","x":1,"p":3.16},
{"s":"296d","T":296,"k":"d","x":1,"p":3.45},{"s":"296d","T":296,"k":"d","x":0.95,"p":3.6},{"s":"296d","T":296,"k":"d","x":0.9,"p":3.9},{"s":"296d","T":296,"k":"d","x":0.87,"p":4.4},{"s":"296d","T":296,"k":"d","x":0.87,"p":4.9},{"s":"296d","T":296,"k":"d","x":0.9,"p":5.2},{"s":"296d","T":296,"k":"d","x":0.93,"p":5.3},
{"s":"296b","T":296,"k":"b","x":0.93,"p":5.3},{"s":"296b","T":296,"k":"b","x":0.96,"p":5.0},{"s":"296b","T":296,"k":"b","x":0.98,"p":4.5},{"s":"296b","T":296,"k":"b","x":1,"p":3.45}
],
"dia": [
{"x":0.239,"p":13.1,"T":200},{"x":0.235,"p":12.5,"T":205},{"x":0.173,"p":12.3,"T":195},{"x":0.194,"p":12.5,"T":185},{"x":0.185,"p":12.0,"T":200},{"x":0.25,"p":12.1,"T":215},{"x":0.292,"p":13.4,"T":180},{"x":0.302,"p":12.0,"T":220},{"x":0.339,"p":12.5,"T":195},{"x":0.206,"p":10.6,"T":225},
{"x":0.25,"p":10.3,"T":225},{"x":0.107,"p":10.4,"T":185},{"x":0.135,"p":10.3,"T":190},{"x":0.119,"p":9.7,"T":180},{"x":0.151,"p":10.0,"T":185},{"x":0.082,"p":9.1,"T":175},{"x":0.109,"p":9.0,"T":145},{"x":0.111,"p":8.1,"T":180},{"x":0.135,"p":7.8,"T":185},{"x":0.048,"p":7.8,"T":170},
{"x":0.044,"p":7.0,"T":170},{"x":0.027,"p":5.7,"T":175},{"x":0.048,"p":5.5,"T":170},{"x":0.019,"p":4.6,"T":165},{"x":0.185,"p":9.3,"T":215},{"x":0.181,"p":8.7,"T":215},{"x":0.227,"p":8.1,"T":225},{"x":0.185,"p":7.6,"T":210},{"x":0.185,"p":6.8,"T":215},{"x":0.181,"p":6.2,"T":205},
{"x":0.185,"p":5.3,"T":215},{"x":0.144,"p":5.1,"T":195},{"x":0.169,"p":4.2,"T":200},{"x":0.185,"p":4.4,"T":205},{"x":0.177,"p":3.1,"T":200},{"x":0.173,"p":2.6,"T":205},{"x":0.181,"p":2.1,"T":195},{"x":0.152,"p":1.8,"T":190},{"x":0.185,"p":1.4,"T":200},{"x":0.094,"p":6.8,"T":180},
{"x":0.094,"p":5.7,"T":185},{"x":0.102,"p":4.2,"T":190},{"x":0.09,"p":3.1,"T":180},{"x":0.111,"p":2.7,"T":175},{"x":0.09,"p":1.6,"T":180},{"x":0.102,"p":0.8,"T":185},{"x":0.04,"p":4.4,"T":160},{"x":0.069,"p":3.4,"T":170},{"x":0.027,"p":2.3,"T":160},{"x":0.061,"p":1.2,"T":170},
{"x":0.04,"p":0.6,"T":175},{"x":0.239,"p":5.5,"T":215},{"x":0.252,"p":4.6,"T":210},{"x":0.219,"p":3.4,"T":210},{"x":0.219,"p":2.0,"T":205},{"x":0.252,"p":1.1,"T":200},{"x":0.285,"p":0.6,"T":195},{"x":0.16,"p":0.45,"T":190},{"x":0.289,"p":7.6,"T":230},{"x":0.293,"p":6.8,"T":230},
{"x":0.302,"p":5.8,"T":225},{"x":0.323,"p":4.9,"T":225},{"x":0.293,"p":3.4,"T":230},{"x":0.273,"p":2.4,"T":215},{"x":0.356,"p":7.2,"T":235},{"x":0.356,"p":6.1,"T":230},{"x":0.352,"p":5.3,"T":230},{"x":0.347,"p":4.4,"T":225},{"x":0.343,"p":3.4,"T":225},{"x":0.347,"p":2.3,"T":220},
{"x":0.352,"p":1.8,"T":215},{"x":0.347,"p":1.2,"T":210},{"x":0.356,"p":0.7,"T":210},{"x":0.393,"p":3.4,"T":230},{"x":0.401,"p":2.1,"T":220},{"x":0.447,"p":0.36,"T":175},{"x":0.515,"p":0.34,"T":180},{"x":0.485,"p":10.1,"T":250},{"x":0.456,"p":9.3,"T":250},{"x":0.443,"p":7.8,"T":245},
{"x":0.464,"p":6.1,"T":245},{"x":0.485,"p":4.2,"T":240},{"x":0.48,"p":2.5,"T":235},{"x":0.514,"p":1.6,"T":235},{"x":0.535,"p":1.2,"T":230},{"x":0.568,"p":0.64,"T":225},{"x":0.535,"p":8.7,"T":260},{"x":0.551,"p":7.2,"T":255},{"x":0.568,"p":6.4,"T":250},{"x":0.564,"p":5.7,"T":250},
{"x":0.584,"p":4.9,"T":250},{"x":0.572,"p":3.8,"T":245},{"x":0.572,"p":3.1,"T":240},{"x":0.572,"p":2.3,"T":235},{"x":0.572,"p":1.6,"T":235},{"x":0.572,"p":0.8,"T":230},{"x":0.626,"p":3.4,"T":245},{"x":0.647,"p":2.5,"T":240},{"x":0.643,"p":1.0,"T":230},{"x":0.667,"p":1.6,"T":240},
{"x":0.709,"p":1.0,"T":235},{"x":0.535,"p":9.6,"T":265},{"x":0.559,"p":10.2,"T":265},{"x":0.518,"p":7.75,"T":260},{"x":0.526,"p":6.6,"T":260},{"x":0.634,"p":9.6,"T":270},{"x":0.659,"p":8.9,"T":270},{"x":0.626,"p":8.1,"T":270},{"x":0.634,"p":7.0,"T":270},{"x":0.659,"p":5.7,"T":268},
{"x":0.692,"p":5.1,"T":270},{"x":0.734,"p":4.4,"T":272},{"x":0.584,"p":5.1,"T":255},{"x":0.609,"p":4.6,"T":258},{"x":0.634,"p":4.2,"T":262},{"x":0.559,"p":4.0,"T":252},{"x":0.659,"p":2.9,"T":255},{"x":0.709,"p":3.3,"T":262},{"x":0.759,"p":2.5,"T":265},{"x":0.817,"p":1.0,"T":235},
{"x":0.759,"p":0.64,"T":240},{"x":0.095,"p":0.79,"T":180},{"x":0.156,"p":0.4,"T":185},{"x":0.176,"p":0.79,"T":190},{"x":0.287,"p":0.7,"T":200},{"x":0.358,"p":0.63,"T":195},{"x":0.54,"p":1.0,"T":235},{"x":0.57,"p":0.79,"T":240},{"x":0.65,"p":0.64,"T":245}
],
"cir": [
{"x":0.306,"p":13.5,"T":175},{"x":0.331,"p":13.46,"T":175},{"x":0.358,"p":13.37,"T":170},{"x":0.298,"p":12.5,"T":165},{"x":0.37,"p":12.5,"T":165},{"x":0.273,"p":11.97,"T":140},{"x":0.431,"p":13.2,"T":180},{"x":0.456,"p":13.1,"T":175},{"x":0.441,"p":12.06,"T":160},{"x":0.493,"p":12.5,"T":185},
{"x":0.547,"p":12.5,"T":195},{"x":0.551,"p":12.06,"T":190},{"x":0.597,"p":12.06,"T":200},{"x":0.572,"p":10.4,"T":160},{"x":0.539,"p":8.9,"T":135},{"x":0.626,"p":10.2,"T":175},{"x":0.626,"p":9.06,"T":165},{"x":0.611,"p":6.99,"T":135},{"x":0.629,"p":6.99,"T":135},{"x":0.648,"p":6.99,"T":135},
{"x":0.716,"p":5.66,"T":140},{"x":0.667,"p":10.4,"T":215},{"x":0.688,"p":10.0,"T":210},{"x":0.7,"p":9.6,"T":205},
{"x":0.72,"p":9.3,"T":185},{"x":0.74,"p":8.9,"T":190},{"x":0.77,"p":8.6,"T":195},{"x":0.79,"p":8.2,"T":200},{"x":0.71,"p":8.6,"T":180},{"x":0.73,"p":7.8,"T":185},{"x":0.77,"p":7.6,"T":190},{"x":0.8,"p":7.4,"T":195},{"x":0.72,"p":7.0,"T":180},{"x":0.78,"p":6.8,"T":190},{"x":0.81,"p":6.6,"T":198},{"x":0.76,"p":9.6,"T":200},{"x":0.79,"p":9.2,"T":210},{"x":0.82,"p":8.8,"T":215},{"x":0.74,"p":9.9,"T":195},
{"x":0.82,"p":7.8,"T":210},{"x":0.84,"p":7.8,"T":215},{"x":0.86,"p":7.4,"T":220},{"x":0.88,"p":7.0,"T":225},{"x":0.9,"p":6.6,"T":230},{"x":0.83,"p":6.9,"T":205},{"x":0.86,"p":6.4,"T":210},{"x":0.89,"p":6.0,"T":215},{"x":0.92,"p":5.6,"T":225},{"x":0.94,"p":5.2,"T":235},{"x":0.82,"p":6.0,"T":200},{"x":0.86,"p":5.3,"T":205},{"x":0.89,"p":4.9,"T":210},{"x":0.92,"p":4.5,"T":218},{"x":0.95,"p":4.1,"T":228},{"x":0.83,"p":5.0,"T":190},{"x":0.87,"p":4.4,"T":195},{"x":0.91,"p":3.9,"T":200},{"x":0.94,"p":3.4,"T":210},{"x":0.97,"p":3.0,"T":220},
{"x":0.682,"p":9.4,"T":175},{"x":0.682,"p":9.0,"T":172},{"x":0.682,"p":8.6,"T":170},{"x":0.682,"p":8.2,"T":167},{"x":0.682,"p":7.8,"T":165},{"x":0.682,"p":7.4,"T":162},{"x":0.682,"p":7.0,"T":160},{"x":0.682,"p":6.6,"T":157},{"x":0.682,"p":6.2,"T":155},{"x":0.682,"p":5.8,"T":152},{"x":0.682,"p":5.4,"T":150},{"x":0.682,"p":5.0,"T":147},{"x":0.682,"p":4.6,"T":145},{"x":0.682,"p":4.2,"T":140},
{"x":0.75,"p":8.5,"T":170},{"x":0.75,"p":8.0,"T":167},{"x":0.75,"p":7.5,"T":164},{"x":0.75,"p":7.0,"T":161},{"x":0.75,"p":6.5,"T":158},{"x":0.75,"p":6.0,"T":155},{"x":0.75,"p":5.5,"T":152},{"x":0.75,"p":5.0,"T":149},{"x":0.75,"p":4.5,"T":146},{"x":0.75,"p":4.0,"T":143},{"x":0.75,"p":3.5,"T":140},{"x":0.75,"p":3.0,"T":135},
{"x":0.7,"p":3.6,"T":120},{"x":0.72,"p":3.2,"T":115},{"x":0.74,"p":2.7,"T":115},{"x":0.76,"p":2.4,"T":110},{"x":0.71,"p":2.6,"T":118},{"x":0.745,"p":2.2,"T":112},{"x":0.78,"p":2.0,"T":110},
{"x":0.798,"p":6.3,"T":150},{"x":0.798,"p":5.8,"T":147},{"x":0.798,"p":5.3,"T":144},{"x":0.798,"p":4.8,"T":141},{"x":0.798,"p":4.3,"T":138},{"x":0.798,"p":3.8,"T":135},{"x":0.798,"p":3.3,"T":130},{"x":0.798,"p":2.8,"T":125},{"x":0.798,"p":2.3,"T":120},{"x":0.798,"p":1.8,"T":115},{"x":0.798,"p":1.3,"T":110},{"x":0.798,"p":0.9,"T":105},
{"x":0.93,"p":6.2,"T":292},{"x":0.95,"p":5.9,"T":295},{"x":0.97,"p":5.5,"T":296},{"x":0.99,"p":5.0,"T":296},{"x":1.0,"p":4.5,"T":296},{"x":1.0,"p":4.0,"T":294},{"x":0.99,"p":3.6,"T":292},{"x":1.0,"p":3.2,"T":290},{"x":0.97,"p":4.5,"T":288},{"x":0.95,"p":5.0,"T":286},{"x":0.92,"p":5.4,"T":285},{"x":0.9,"p":6.2,"T":288},{"x":0.88,"p":6.6,"T":284},{"x":0.86,"p":6.9,"T":282},{"x":0.995,"p":2.8,"T":288},{"x":1.0,"p":2.4,"T":282},{"x":1.0,"p":2.0,"T":276},{"x":0.995,"p":1.6,"T":270},{"x":1.0,"p":1.2,"T":262},{"x":1.0,"p":0.8,"T":255},{"x":0.995,"p":0.45,"T":245},{"x":1.0,"p":0.25,"T":235},
{"x":0.84,"p":7.2,"T":275},{"x":0.82,"p":7.6,"T":270},{"x":0.8,"p":8.0,"T":265},{"x":0.78,"p":8.4,"T":262},{"x":0.85,"p":6.2,"T":265},{"x":0.88,"p":5.6,"T":268},{"x":0.9,"p":5.0,"T":270},{"x":0.93,"p":4.3,"T":275},{"x":0.96,"p":3.6,"T":280},{"x":0.98,"p":3.0,"T":282},{"x":0.83,"p":6.6,"T":255},{"x":0.86,"p":5.5,"T":255},{"x":0.89,"p":4.6,"T":258},{"x":0.92,"p":3.8,"T":262},{"x":0.95,"p":3.0,"T":265},{"x":0.97,"p":2.4,"T":268},{"x":0.99,"p":2.0,"T":270},{"x":0.87,"p":4.5,"T":245},{"x":0.9,"p":3.8,"T":248},{"x":0.93,"p":3.1,"T":250},{"x":0.96,"p":2.4,"T":255},{"x":0.98,"p":1.7,"T":258},
{"x":0.86,"p":6.9,"T":200},{"x":0.87,"p":6.4,"T":195},{"x":0.88,"p":5.9,"T":190},{"x":0.86,"p":4.2,"T":200},{"x":0.88,"p":3.6,"T":205},{"x":0.9,"p":3.1,"T":210},{"x":0.92,"p":2.6,"T":215},{"x":0.94,"p":2.1,"T":220},{"x":0.96,"p":1.6,"T":225},{"x":0.98,"p":1.2,"T":228},{"x":0.85,"p":3.0,"T":180},{"x":0.87,"p":2.5,"T":185},{"x":0.9,"p":2.0,"T":190},{"x":0.92,"p":1.6,"T":195},{"x":0.95,"p":1.2,"T":200},{"x":0.97,"p":0.8,"T":205},{"x":0.99,"p":0.5,"T":210},{"x":0.835,"p":7.3,"T":170},{"x":0.835,"p":6.6,"T":165},{"x":0.835,"p":5.9,"T":160},{"x":0.835,"p":5.2,"T":158},{"x":0.84,"p":4.5,"T":155},{"x":0.84,"p":3.8,"T":150},{"x":0.85,"p":2.0,"T":160},{"x":0.88,"p":1.5,"T":165},
{"x":0.72,"p":1.9,"T":115},{"x":0.77,"p":1.6,"T":110},{"x":0.8,"p":1.3,"T":105},{"x":0.83,"p":1.0,"T":100},{"x":0.86,"p":0.8,"T":100},{"x":0.9,"p":0.6,"T":98},{"x":0.94,"p":0.4,"T":96},{"x":0.97,"p":0.25,"T":95},{"x":0.76,"p":3.1,"T":120},{"x":0.79,"p":2.6,"T":118},{"x":0.82,"p":2.2,"T":115},{"x":0.85,"p":1.7,"T":112},{"x":0.88,"p":1.3,"T":110},{"x":0.91,"p":1.0,"T":108},{"x":0.94,"p":0.7,"T":105},{"x":0.82,"p":3.3,"T":130},{"x":0.86,"p":2.5,"T":128},{"x":0.9,"p":1.9,"T":125},{"x":0.93,"p":1.4,"T":122},{"x":0.96,"p":1.0,"T":120},{"x":0.98,"p":0.6,"T":118},{"x":0.88,"p":3.2,"T":140},{"x":0.92,"p":2.4,"T":138},{"x":0.95,"p":1.7,"T":135},{"x":0.97,"p":1.2,"T":132},{"x":0.99,"p":0.8,"T":130},
{"x":0.79,"p":1.8,"T":105},{"x":0.81,"p":1.4,"T":100},{"x":0.83,"p":0.9,"T":98},{"x":0.8,"p":0.6,"T":95},{"x":0.86,"p":1.2,"T":102},{"x":0.87,"p":0.5,"T":95},{"x":0.9,"p":0.3,"T":93},{"x":0.92,"p":0.25,"T":92},{"x":0.78,"p":2.3,"T":108},
{"x":1.0,"p":0.048,"T":150},{"x":1.0,"p":0.0095,"T":145},{"x":1.0,"p":0.0035,"T":140},{"x":1.0,"p":1.2e-6,"T":92},{"x":0.009,"p":0.043,"T":115},{"x":0.004,"p":0.021,"T":100},{"x":0.92,"p":0.36,"T":92},{"x":0.95,"p":0.3,"T":92},{"x":0.97,"p":0.2,"T":95},{"x":0.99,"p":0.12,"T":100},{"x":1.0,"p":0.25,"T":110},{"x":0.99,"p":0.18,"T":120},
{"x":0.0,"p":0.4,"T":92},{"x":0.012,"p":0.4,"T":92},{"x":0.024,"p":0.4,"T":93},{"x":0.036,"p":0.4,"T":94},{"x":0.0,"p":0.8,"T":100},{"x":0.006,"p":0.6,"T":96},{"x":0.0,"p":1.1,"T":104},{"x":0.015,"p":1.2,"T":105},{"x":0.0,"p":1.5,"T":110},{"x":0.02,"p":1.5,"T":108},{"x":0.035,"p":1.5,"T":106},{"x":0.05,"p":1.5,"T":106},{"x":0.063,"p":1.5,"T":104},{"x":0.0,"p":2.0,"T":116},{"x":0.04,"p":1.9,"T":114},{"x":0.05,"p":2.1,"T":115},{"x":0.01,"p":2.2,"T":116},{"x":0.0,"p":2.5,"T":118},{"x":0.03,"p":2.6,"T":118},{"x":0.063,"p":2.7,"T":118},{"x":0.048,"p":2.4,"T":118},{"x":0.0,"p":3.0,"T":121},{"x":0.01,"p":2.9,"T":120},{"x":0.05,"p":2.9,"T":122},{"x":0.02,"p":3.3,"T":122},{"x":0.0,"p":3.5,"T":125},{"x":0.056,"p":3.57,"T":122},{"x":0.0,"p":4.0,"T":130},{"x":0.005,"p":4.4,"T":135},{"x":0.0,"p":4.8,"T":140},{"x":0.01,"p":3.8,"T":128},{"x":0.015,"p":0.8,"T":100}
],
"cbar": [{"lo": 91.1, "hi": 298.4}],
"blank": [{"a": 1}]
},
"hconcat": [
{
"width": 485, "height": 288,
"layer": [
{"data": {"name": "cir"}, "mark": {"type": "circle", "size": 115, "opacity": 1, "clip": true},
 "encoding": {
  "x": {"field": "x", "type": "quantitative", "scale": {"domain": [-0.045, 1.047], "nice": false, "zero": false}, "axis": {"values": [0,0.2,0.4,0.6,0.8,1.0], "format": ".1f", "title": "x₁, y₁ / mole fraction", "titlePadding": 6}},
  "y": {"field": "p", "type": "quantitative", "scale": {"domain": [0, 16.38], "nice": false, "zero": false}, "axis": {"values": [0,2.5,5,7.5,10,12.5,15], "format": ".1f", "title": "p / MPa", "titlePadding": 8}},
  "color": {"field": "T", "type": "quantitative", "scale": {"scheme": "viridis", "domain": [91.1, 298.4]}}
 }},
{"data": {"name": "lines"}, "mark": {"type": "line", "strokeWidth": 0.8, "interpolate": "catmull-rom", "clip": true},
 "encoding": {
  "x": {"field": "x", "type": "quantitative"},
  "y": {"field": "p", "type": "quantitative"},
  "detail": {"field": "s"},
  "order": {"value": null},
  "color": {"field": "T", "type": "quantitative", "scale": {"scheme": "viridis", "domain": [91.1, 298.4]}},
  "strokeDash": {"field": "k", "type": "nominal", "scale": {"domain": ["b","d"], "range": [[1,0],[2.5,1.2]]}}
 }},
{"data": {"name": "dia"}, "mark": {"type": "point", "shape": "M0,-1L0.58,0L0,1L-0.58,0Z", "filled": true, "size": 250, "opacity": 1, "clip": true},
 "encoding": {
  "x": {"field": "x", "type": "quantitative"},
  "y": {"field": "p", "type": "quantitative"},
  "color": {"field": "T", "type": "quantitative", "scale": {"scheme": "viridis", "domain": [91.1, 298.4]}}
 }}
]
},
{
"width": 12, "height": 288,
"view": {"stroke": null},
"data": {"name": "blank"},
"mark": {"type": "text", "text": " "},
"encoding": {}
},
{
"width": 388, "height": 288,
"layer": [
{"data": {"name": "cir"}, "mark": {"type": "circle", "size": 115, "opacity": 1, "clip": true},
 "encoding": {
  "x": {"field": "x", "type": "quantitative", "scale": {"domain": [-0.0506, 1.0516], "nice": false, "zero": false}, "axis": {"values": [0,0.2,0.4,0.6,0.8,1.0], "format": ".1f", "title": "x₁, y₁ / mole fraction", "titlePadding": 6}},
  "y": {"field": "p", "type": "quantitative", "scale": {"type": "log", "domain": [5.32e-7, 137.7], "nice": false}, "axis": {"values": [1e-5, 1e-3, 0.1, 10], "labelExpr": "datum.value > 5 ? '10¹' : datum.value > 0.05 ? '10⁻¹' : datum.value > 5e-4 ? '10⁻³' : '10⁻⁵'", "title": null}},
  "color": {"field": "T", "type": "quantitative", "scale": {"scheme": "viridis", "domain": [91.1, 298.4]}}
 }},
{"data": {"name": "lines"}, "mark": {"type": "line", "strokeWidth": 0.8, "interpolate": "catmull-rom", "clip": true},
 "encoding": {
  "x": {"field": "x", "type": "quantitative"},
  "y": {"field": "p", "type": "quantitative"},
  "detail": {"field": "s"},
  "order": {"value": null},
  "color": {"field": "T", "type": "quantitative", "scale": {"scheme": "viridis", "domain": [91.1, 298.4]}},
  "strokeDash": {"field": "k", "type": "nominal", "scale": {"domain": ["b","d"], "range": [[1,0],[2.5,1.2]]}}
 }},
{"data": {"name": "dia"}, "mark": {"type": "point", "shape": "M0,-1L0.58,0L0,1L-0.58,0Z", "filled": true, "size": 250, "opacity": 1, "clip": true},
 "encoding": {
  "x": {"field": "x", "type": "quantitative"},
  "y": {"field": "p", "type": "quantitative"},
  "color": {"field": "T", "type": "quantitative", "scale": {"scheme": "viridis", "domain": [91.1, 298.4]}}
 }}
]
},
{
"width": 15, "height": 288,
"data": {"name": "cbar"},
"mark": {"type": "rect", "color": {"gradient": "linear", "x1": 0, "y1": 1, "x2": 0, "y2": 0, "stops": [{"offset": 0, "color": "#440154"}, {"offset": 0.1, "color": "#482475"}, {"offset": 0.2, "color": "#414487"}, {"offset": 0.3, "color": "#355f8d"}, {"offset": 0.4, "color": "#2a788e"}, {"offset": 0.5, "color": "#21918c"}, {"offset": 0.6, "color": "#22a884"}, {"offset": 0.7, "color": "#44bf70"}, {"offset": 0.8, "color": "#7ad151"}, {"offset": 0.9, "color": "#bddf26"}, {"offset": 1, "color": "#fde725"}]}},
"encoding": {
  "y": {"field": "lo", "type": "quantitative", "scale": {"domain": [91.1, 298.4], "nice": false, "zero": false}, "axis": {"orient": "right", "values": [100,150,200,250], "title": "T / K", "titleAngle": 270, "titleBaseline": "top", "titlePadding": 6}},
  "y2": {"field": "hi"}
}
}
],
"config": {
 "font": "DejaVu Sans",
 "legend": {"disable": true},
 "view": {"stroke": "#262626", "strokeWidth": 1.1},
 "axis": {"grid": false, "domain": false, "tickColor": "#262626", "tickSize": 6, "tickWidth": 1, "labelFontSize": 16.5, "titleFontSize": 16.5, "titleFontWeight": "normal", "labelColor": "#000", "titleColor": "#000", "labelPadding": 5, "labelFlush": false, "labelOverlap": false}
}
}
